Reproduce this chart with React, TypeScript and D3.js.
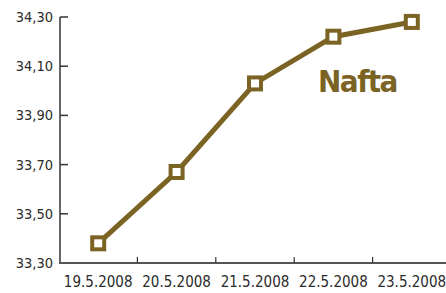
import { useEffect, useRef } from "react";
import * as d3 from "d3";

const DATES = ["19.5.2008", "20.5.2008", "21.5.2008", "22.5.2008", "23.5.2008"];
const VALUES = [33.38, 33.67, 34.03, 34.22, 34.28];
const Y_TICKS = [33.3, 33.5, 33.7, 33.9, 34.1, 34.3];

const W = 446;
const H = 293;
const COLOR = "#7b6323";
const FONT = "'DejaVu Sans Condensed', 'Roboto', sans-serif";

export default function App() {
  const svgRef = useRef<SVGSVGElement>(null);

  useEffect(() => {
    if (!svgRef.current) return;
    const svg = d3.select(svgRef.current);
    svg.selectAll("*").remove();

    const x = d3.scaleBand<string>().domain(DATES).range([59, 451]);
    const y = d3.scaleLinear().domain([33.3, 34.3]).range([263, 17]);

    // y axis
    const yAxis = svg.append("g").attr("transform", "translate(60,0)");
    yAxis.append("line")
      .attr("x1", 0).attr("x2", 0)
      .attr("y1", y(34.3)).attr("y2", y(33.3))
      .attr("stroke", "#333").attr("stroke-width", 1.5);
    yAxis.selectAll(".yt")
      .data(Y_TICKS)
      .join("line")
      .attr("x1", 0).attr("x2", 8)
      .attr("y1", (d) => y(d)).attr("y2", (d) => y(d))
      .attr("stroke", "#333").attr("stroke-width", 1.5);
    yAxis.selectAll(".yl")
      .data(Y_TICKS)
      .join("text")
      .attr("x", -7)
      .attr("y", (d) => y(d) + 5)
      .attr("text-anchor", "end")
      .attr("font-family", FONT)
      .attr("font-size", 14.5)
      .attr("fill", "#2b2b2b")
      .text((d) => d.toFixed(2).replace(".", ","));

    // x axis
    const xAxis = svg.append("g");
    xAxis.append("line")
      .attr("x1", 59).attr("x2", W)
      .attr("y1", y(33.3)).attr("y2", y(33.3))
      .attr("stroke", "#555").attr("stroke-width", 2);
    xAxis.selectAll(".xt")
      .data(DATES.slice(1))
      .join("line")
      .attr("x1", (d) => x(d)!).attr("x2", (d) => x(d)!)
      .attr("y1", y(33.3)).attr("y2", y(33.3) - 6)
      .attr("stroke", "#333").attr("stroke-width", 1.2);
    xAxis.selectAll(".xl")
      .data(DATES)
      .join("text")
      .attr("x", (d) => x(d)! + x.bandwidth() / 2)
      .attr("y", 287)
      .attr("text-anchor", "middle")
      .attr("font-family", FONT)
      .attr("font-size", 15)
      .attr("fill", "#2b2b2b")
      .text((d) => d);

    const pts = DATES.map((d, i) => ({ d, v: VALUES[i] }));
    const line = d3.line<(typeof pts)[0]>()
      .x((p) => x(p.d)! + x.bandwidth() / 2)
      .y((p) => y(p.v));

    svg.append("path")
      .datum(pts)
      .attr("d", line)
      .attr("fill", "none")
      .attr("stroke", COLOR)
      .attr("stroke-width", 5);

    svg.selectAll(".pt")
      .data(pts)
      .join("rect")
      .attr("x", (p) => x(p.d)! + x.bandwidth() / 2 - 6)
      .attr("y", (p) => y(p.v) - 6)
      .attr("width", 12)
      .attr("height", 12)
      .attr("fill", "#fff")
      .attr("stroke", COLOR)
      .attr("stroke-width", 4);

    svg.append("text")
      .attr("x", 318)
      .attr("y", 92)
      .attr("font-family", FONT)
      .attr("font-weight", "bold")
      .attr("font-size", 31)
      .attr("letter-spacing", -1.5)
      .attr("fill", COLOR)
      .text("Nafta");
  }, []);

  return (
    <svg
      ref={svgRef}
      width={W}
      height={H}
      style={{ position: "absolute", left: 0, top: 0, background: "#fff" }}
    />
  );
}
